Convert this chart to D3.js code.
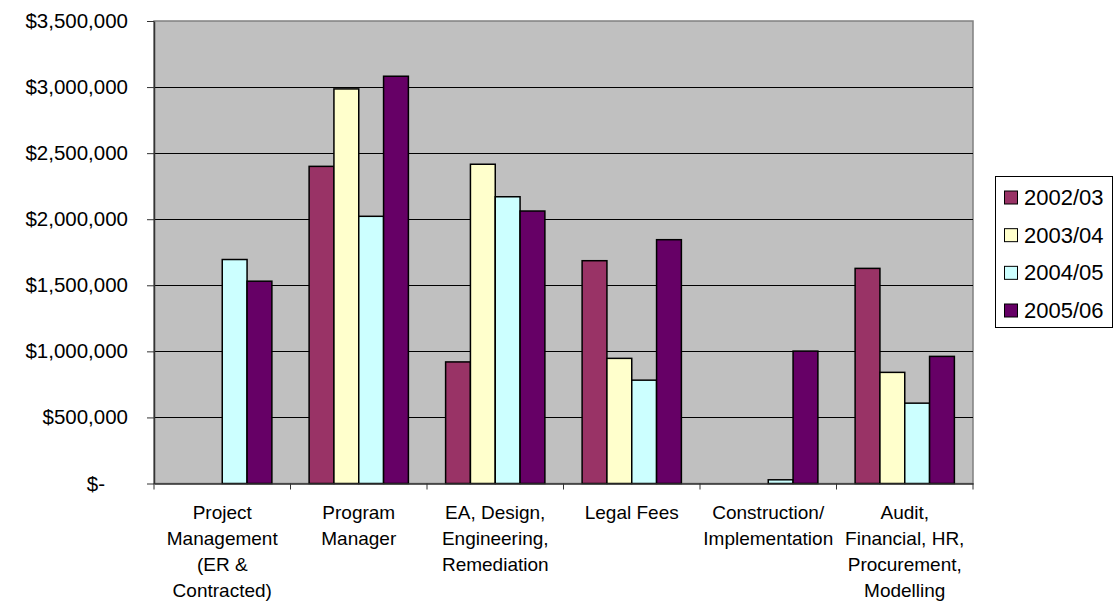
<!DOCTYPE html>
<html>
<head>
<meta charset="utf-8">
<script src="https://cdn.jsdelivr.net/npm/d3@7"></script>
<style>
  html, body { margin: 0; padding: 0; background: #fff; }
  svg text { font-family: "Liberation Sans", Arial, sans-serif; fill: #000; }
</style>
</head>
<body>
<svg id="chart" width="1117" height="602"></svg>
<script>
// Spending by category and fiscal year
const categories = [
  "Project Management (ER & Contracted)",
  "Program Manager",
  "EA, Design, Engineering, Remediation",
  "Legal Fees",
  "Construction/ Implementation",
  "Audit, Financial, HR, Procurement, Modelling"
];
// Wrapped label lines for each category
const categoryLines = [
  ["Project", "Management", "(ER &", "Contracted)"],
  ["Program", "Manager"],
  ["EA, Design,", "Engineering,", "Remediation"],
  ["Legal Fees"],
  ["Construction/", "Implementation"],
  ["Audit,", "Financial, HR,", "Procurement,", "Modelling"]
];
const seriesNames = ["2002/03", "2003/04", "2004/05", "2005/06"];
const seriesColors = ["#993366", "#FFFFCC", "#CCFFFF", "#660066"];

const values2002 = [null, 2400000, 920000, 1686000, null, 1628000];
const values2003 = [null, 2986000, 2416000, 947000, null, 841000];
const values2004 = [1695000, 2022000, 2170000, 782000, 28000, 608000];
const values2005 = [1531000, 3082000, 2062000, 1845000, 1002000, 962000];
const seriesValues = [values2002, values2003, values2004, values2005];

const yTicks = [0, 500000, 1000000, 1500000, 2000000, 2500000, 3000000, 3500000];

// Layout
const plot = { left: 154, right: 973, top: 21, bottom: 483.5 };
const svg = d3.select("#chart");

const x0 = d3.scaleBand().domain(categories).range([plot.left, plot.right]).padding(0);
const x1 = d3.scaleBand().domain(seriesNames).range([0, x0.bandwidth()])
  .paddingInner(0).paddingOuter(0.75);
const y = d3.scaleLinear().domain([0, 3500000]).range([plot.bottom, plot.top]);
const color = d3.scaleOrdinal().domain(seriesNames).range(seriesColors);

// Plot background
svg.append("rect")
  .attr("x", plot.left).attr("y", plot.top)
  .attr("width", plot.right - plot.left).attr("height", plot.bottom - plot.top)
  .attr("fill", "#C0C0C0").attr("stroke", "#808080").attr("stroke-width", 1.5);

// Horizontal gridlines
svg.append("g")
  .attr("transform", `translate(${plot.left},0)`)
  .call(d3.axisLeft(y).tickValues(yTicks.slice(1, -1)).tickSize(-(plot.right - plot.left)).tickFormat(""))
  .call(g => g.select(".domain").remove())
  .call(g => g.selectAll("line").attr("stroke", "#000").attr("stroke-width", 1).attr("shape-rendering", "crispEdges"));

// Bars
const rows = categories.map((c, i) => ({
  category: c,
  bars: seriesNames.map((s, k) => ({ series: s, value: seriesValues[k][i] }))
}));

svg.append("g").selectAll("g")
  .data(rows).join("g")
  .attr("transform", d => `translate(${x0(d.category)},0)`)
  .selectAll("rect")
  .data(d => d.bars.filter(b => b.value != null))
  .join("rect")
  .attr("x", d => x1(d.series))
  .attr("y", d => y(d.value))
  .attr("width", x1.bandwidth())
  .attr("height", d => y(0) - y(d.value))
  .attr("fill", d => color(d.series))
  .attr("stroke", "#000")
  .attr("stroke-width", 1.5);

// Y axis
const fmt = d3.format("$,");
const yAxis = svg.append("g")
  .attr("transform", `translate(${plot.left},0)`)
  .call(d3.axisLeft(y).tickValues(yTicks).tickSize(7).tickSizeOuter(0).tickPadding(19)
    .tickFormat(v => v === 0 ? "$-" : fmt(v)));
yAxis.select(".domain").attr("stroke", "#333").attr("stroke-width", 1.5);
yAxis.selectAll(".tick line").attr("stroke", "#333").attr("stroke-width", 1);
yAxis.selectAll(".tick text")
  .attr("font-size", 20.5)
  .attr("font-family", "Liberation Sans, Arial, sans-serif")
  .attr("fill", "#000")
  .attr("dx", d => d === 0 ? -23 : 0);

// X axis
const xAxis = svg.append("g")
  .attr("transform", `translate(0,${plot.bottom})`)
  .call(d3.axisBottom(x0).tickSize(0).tickSizeOuter(0).tickFormat(""));
xAxis.select(".domain").attr("stroke", "#333").attr("stroke-width", 1.5);
xAxis.selectAll(".tick").remove();

// Category boundary ticks
const boundaries = categories.map(c => x0(c)).concat([plot.right]);
svg.append("g").selectAll("line")
  .data(boundaries).join("line")
  .attr("x1", d => d).attr("x2", d => d)
  .attr("y1", plot.bottom).attr("y2", plot.bottom + 6)
  .attr("stroke", "#333").attr("stroke-width", 1);

// Category labels
svg.append("g").selectAll("text")
  .data(rows).join("text")
  .attr("text-anchor", "middle")
  .attr("font-size", 19)
  .each(function (d, i) {
    const cx = x0(d.category) + x0.bandwidth() / 2;
    d3.select(this).selectAll("tspan")
      .data(categoryLines[i]).join("tspan")
      .attr("x", cx)
      .attr("y", (t, j) => 518.5 + j * 26.2)
      .text(t => t);
  });

// Legend
const legend = svg.append("g");
legend.append("rect")
  .attr("x", 995.5).attr("y", 176.5).attr("width", 117).attr("height", 151)
  .attr("fill", "#fff").attr("stroke", "#000").attr("stroke-width", 1);
const ly = d3.scalePoint().domain(seriesNames).range([197.5, 310.5]);
const items = legend.selectAll("g.item").data(seriesNames).join("g").attr("class", "item");
items.append("rect")
  .attr("x", 1004.5).attr("y", d => ly(d) - 6.5)
  .attr("width", 13).attr("height", 13)
  .attr("fill", d => color(d)).attr("stroke", "#000").attr("stroke-width", 1);
items.append("text")
  .attr("x", 1024).attr("y", d => ly(d) + 7.5)
  .attr("font-size", 22)
  .text(d => d);
</script>
</body>
</html>
